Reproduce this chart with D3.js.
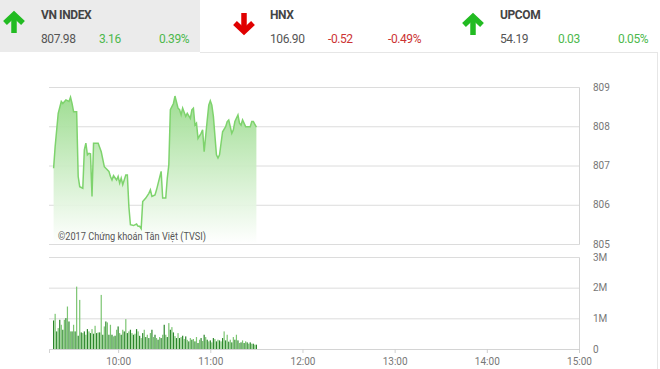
<!DOCTYPE html>
<html>
<head>
<meta charset="utf-8">
<script src="https://cdn.jsdelivr.net/npm/d3@7"></script>
<style>
  body { margin: 0; background: #fff; }
  svg { display: block; font-family: Roboto, "Noto Sans", sans-serif; }
</style>
</head>
<body>
<div id="chart"></div>
<script>
let w = 660;
let h = 369;

// index boxes at the top
let indexNames = ["VN INDEX", "HNX", "UPCOM"];
let indexValues = ["807.98", "106.90", "54.19"];
let indexChanges = ["3.16", "-0.52", "0.03"];
let indexPercents = ["0.39%", "-0.49%", "0.05%"];

// intraday price (VN INDEX)
let priceTimes = ["09:18","09:19","09:21","09:23","09:24","09:26","09:28","09:29","09:30","09:31",
  "09:33","09:34","09:35","09:37","09:38","09:39","09:40","09:41","09:42","09:43",
  "09:44","09:47","09:49","09:51","09:52","09:54","09:55","09:56","09:57","09:59",
  "10:00","10:01","10:02","10:03","10:05","10:06","10:07","10:08","10:10","10:12",
  "10:13","10:14","10:15","10:16","10:18","10:20","10:21","10:22","10:24","10:25",
  "10:28","10:29","10:31","10:32","10:33","10:34","10:36","10:37","10:39","10:40",
  "10:41","10:42","10:44","10:45","10:47","10:48","10:49","10:50","10:51","10:52",
  "10:54","10:55","10:56","10:58","10:59","11:00","11:01","11:02","11:04","11:05",
  "11:06","11:08","11:10","11:11","11:12","11:14","11:15","11:16","11:18","11:19",
  "11:20","11:21","11:23","11:25","11:26","11:27","11:28","11:30"];
let priceValues = [806.93,807.48,808.33,808.63,808.58,808.67,808.63,808.74,808.58,808.37,
  808.37,806.72,806.46,806.42,807.40,807.57,807.27,807.31,807.30,806.21,
  807.57,807.57,807.35,806.97,806.93,806.85,806.72,806.63,806.74,806.63,
  806.72,806.55,806.68,806.51,806.76,806.76,805.95,805.49,805.47,805.51,
  805.45,805.45,805.39,806.08,806.17,806.29,806.38,806.21,806.25,806.38,
  806.85,806.17,806.17,806.68,807.02,808.42,808.58,808.77,808.46,808.42,
  808.29,808.46,808.25,808.33,808.20,808.42,808.46,808.03,808.08,807.69,
  807.82,807.91,807.35,808.16,808.54,808.65,808.54,808.25,807.27,807.19,
  807.27,807.86,807.99,808.12,808.16,807.82,807.91,808.12,808.29,808.08,
  808.03,808.16,807.99,807.99,807.99,808.12,808.12,807.98];

// volume per minute (thousand shares), from 09:18
let volumeStart = "09:18";
let volumes = [930,1147,574,682,952,790,628,952,1006,1385,
  898,574,574,790,574,2034,433,1601,541,519,
  574,465,649,574,519,649,498,757,519,541,
  541,1764,465,736,898,866,465,790,465,411,
  433,628,736,519,465,628,574,974,519,574,
  628,519,465,498,649,574,430,357,519,628,390,
  465,357,520,628,390,465,357,303,390,357,465,
  790,465,390,844,628,714,541,420,357,519,357,
  390,433,325,411,300,249,357,303,325,249,390,
  195,303,357,260,465,390,303,249,281,216,357,
  325,249,303,281,249,357,574,281,465,240,303,
  216,390,303,465,281,195,216,281,195,250,216,
  173,216,173,173,141,141];

let priceTicks = [805, 806, 807, 808, 809];
let volumeTicks = [0, 1000, 2000, 3000];
let volumeTickLabels = ["0", "1M", "2M", "3M"];
let timeTicks = ["10:00", "11:00", "12:00", "13:00", "14:00", "15:00"];
let sessionStart = "09:15";
let sessionEnd = "15:00";

let parseTime = d3.timeParse("%H:%M");

let svg = d3.select("#chart").append("svg")
  .attr("width", w)
  .attr("height", h);

// ---------- header ----------
svg.append("rect")
  .attr("x", 0).attr("y", 0)
  .attr("width", 200).attr("height", 52)
  .attr("fill", "#ebebeb");

svg.append("line")
  .attr("x1", 200).attr("x2", 658)
  .attr("y1", 52.5).attr("y2", 52.5)
  .attr("stroke", "#e6e6e6");
svg.append("line")
  .attr("x1", 657.5).attr("x2", 657.5)
  .attr("y1", 52).attr("y2", h)
  .attr("stroke", "#e6e6e6");

let boxX = [41, 270, 500];
let arrowX = [14, 244, 473];
let arrowY = [23, 23, 25];

indexNames.forEach(function(name, i){
  let up = !indexChanges[i].startsWith("-");
  let col = up ? "#22bb22" : "#e00000";
  let txtCol = up ? "#4cb84c" : "#cc3333";
  let ax = arrowX[i], ay = arrowY[i];
  let head = up ? -1 : 1;
  let g = svg.append("g").attr("class", "arrow");
  g.append("path")
    .attr("d", "M" + (ax - 9) + "," + (ay - head * 0) + "L" + ax + "," + (ay + head * 8.5) + "L" + (ax + 9) + "," + (ay - head * 0))
    .attr("fill", "none")
    .attr("stroke", col)
    .attr("stroke-width", 5.5)
    .attr("stroke-linejoin", "miter");
  g.append("line")
    .attr("x1", ax).attr("x2", ax)
    .attr("y1", ay + head * 7).attr("y2", ay - head * 10)
    .attr("stroke", col)
    .attr("stroke-width", 5.5);

  svg.append("text")
    .attr("x", boxX[i]).attr("y", 19)
    .attr("font-size", 12)
    .attr("font-weight", "bold")
    .attr("letter-spacing", -0.4)
    .attr("fill", "#444")
    .text(name);
  svg.append("text")
    .attr("x", boxX[i]).attr("y", 43)
    .attr("font-size", 12)
    .attr("letter-spacing", -0.4)
    .attr("fill", "#555")
    .text(indexValues[i]);
  svg.append("text")
    .attr("x", boxX[i] + 58).attr("y", 43)
    .attr("font-size", 12)
    .attr("letter-spacing", -0.4)
    .attr("fill", txtCol)
    .text(indexChanges[i]);
  svg.append("text")
    .attr("x", boxX[i] + 118).attr("y", 43)
    .attr("font-size", 12)
    .attr("letter-spacing", -0.4)
    .attr("fill", txtCol)
    .text(indexPercents[i]);
});

// ---------- scales ----------
let xScale = d3.scaleTime()
  .domain([parseTime(sessionStart), parseTime(sessionEnd)])
  .range([49, 579]);

let yPrice = d3.scaleLinear().domain([805, 809]).range([244, 87]);
let yVol = d3.scaleLinear().domain([0, 3000]).range([349, 257]);

let priceData = priceTimes.map(function(t, i){
  return { time: parseTime(t), value: priceValues[i] };
});
let t0 = parseTime(volumeStart);
let volumeData = volumes.map(function(v, i){
  return { time: d3.timeMinute.offset(t0, i), value: v };
});

// ---------- price panel ----------
let priceAxis = d3.axisRight(yPrice)
  .tickValues(priceTicks)
  .tickSize(-(579 - 49))
  .tickPadding(14)
  .tickFormat(d3.format("d"));

let pAxisG = svg.append("g")
  .attr("class", "price-axis")
  .attr("transform", "translate(579,0)")
  .call(priceAxis);
pAxisG.select(".domain").attr("stroke", "#d4d4d4");
pAxisG.selectAll(".tick line").attr("stroke", "#dcdcdc");
pAxisG.selectAll(".tick text")
  .attr("fill", "#777")
  .attr("font-size", 10)
  .attr("font-family", "Roboto, sans-serif");

let defs = svg.append("defs");
let grad = defs.append("linearGradient")
  .attr("id", "areaFill")
  .attr("gradientUnits", "userSpaceOnUse")
  .attr("x1", 0).attr("x2", 0)
  .attr("y1", yPrice(809)).attr("y2", yPrice(805));
grad.append("stop").attr("offset", "0%").attr("stop-color", "#93d985").attr("stop-opacity", 0.95);
grad.append("stop").attr("offset", "100%").attr("stop-color", "#ffffff").attr("stop-opacity", 0.9);

let area = d3.area()
  .x(function(d){ return xScale(d.time); })
  .y0(yPrice(805))
  .y1(function(d){ return yPrice(d.value); });

let line = d3.line()
  .x(function(d){ return xScale(d.time); })
  .y(function(d){ return yPrice(d.value); });

svg.append("path")
  .datum(priceData)
  .attr("d", area)
  .attr("fill", "url(#areaFill)");

svg.append("path")
  .datum(priceData)
  .attr("d", line)
  .attr("fill", "none")
  .attr("stroke", "#7ed36d")
  .attr("stroke-width", 1.5);

svg.append("text")
  .attr("x", 58).attr("y", 240)
  .attr("font-size", 10.5)
  .attr("fill", "#555")
  .attr("textLength", 148)
  .attr("lengthAdjust", "spacingAndGlyphs")
  .text("©2017 Chứng khoán Tân Việt (TVSI)");

// ---------- volume panel ----------
let volAxis = d3.axisRight(yVol)
  .tickValues(volumeTicks)
  .tickSize(-(579 - 49))
  .tickPadding(14)
  .tickFormat(function(d, i){ return volumeTickLabels[i]; });

let vAxisG = svg.append("g")
  .attr("class", "vol-axis")
  .attr("transform", "translate(579,0)")
  .call(volAxis);
vAxisG.select(".domain").attr("stroke", "#d4d4d4");
vAxisG.selectAll(".tick line").attr("stroke", "#dcdcdc");
vAxisG.selectAll(".tick text")
  .attr("fill", "#777")
  .attr("font-size", 10)
  .attr("font-family", "Roboto, sans-serif");

let barW = 1.2;
svg.selectAll(".vbar").data(volumeData).enter()
  .append("rect")
  .attr("class", "vbar")
  .attr("x", function(d){ return xScale(d.time) - barW / 2; })
  .attr("y", function(d){ return yVol(d.value); })
  .attr("width", barW)
  .attr("height", function(d){ return yVol(0) - yVol(d.value); })
  .attr("fill", function(d, i){ return i % 2 == 0 ? "#2a862a" : "#7cc572"; });

let timeAxis = d3.axisBottom(xScale)
  .tickValues(timeTicks.map(parseTime))
  .tickSize(4)
  .tickPadding(5)
  .tickFormat(d3.timeFormat("%H:%M"));

let tAxisG = svg.append("g")
  .attr("class", "time-axis")
  .attr("transform", "translate(0,349)")
  .call(timeAxis);
tAxisG.select(".domain").attr("stroke", "#d4d4d4");
tAxisG.selectAll(".tick line").attr("stroke", "#cfcfcf");
tAxisG.selectAll(".tick text")
  .attr("fill", "#777")
  .attr("font-size", 10)
  .attr("font-family", "Roboto, sans-serif");
</script>
</body>
</html>
